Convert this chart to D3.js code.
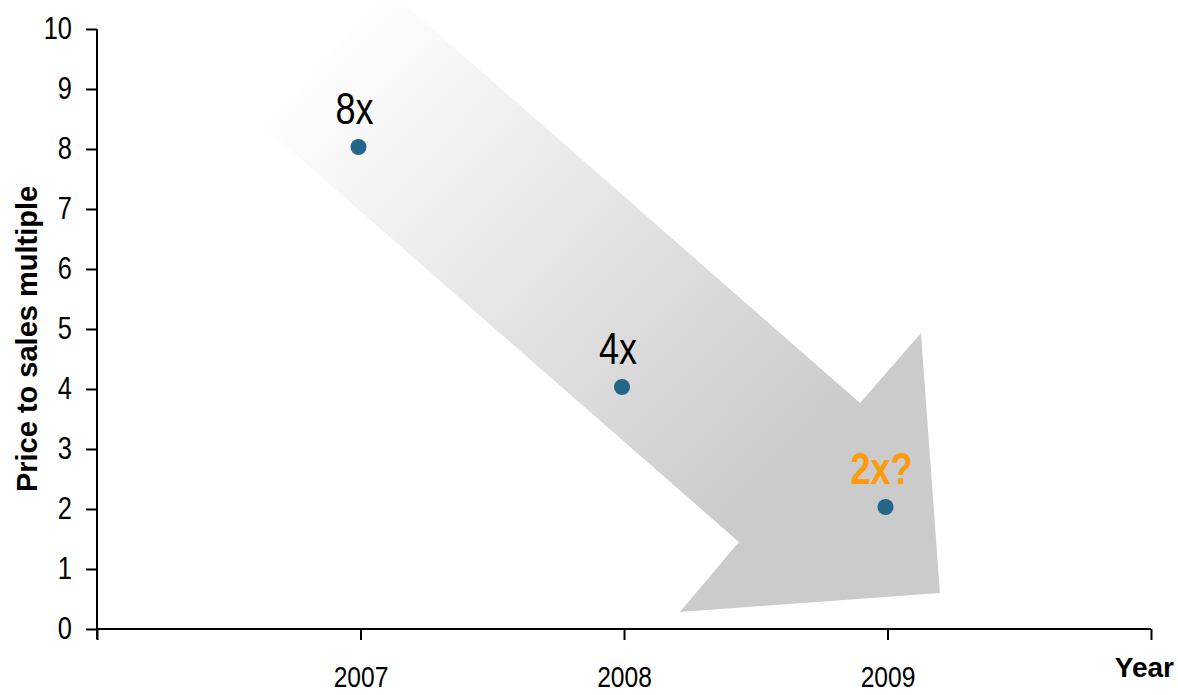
<!DOCTYPE html>
<html>
<head>
<meta charset="utf-8">
<script src="https://cdn.jsdelivr.net/npm/d3@7"></script>
<style>
  html, body { margin: 0; padding: 0; background: #fff; }
  svg { display: block; }
  text { font-family: "Liberation Sans", Arial, sans-serif; }
</style>
</head>
<body>
<svg id="chart" width="1178" height="695"></svg>
<script>
// Price-to-sales multiple by year
const years = [2007, 2008, 2009];
const multiples = [8, 4, 2];
const valueLabels = ["8x", "4x", "2x?"];
const highlight = [false, false, true];

const yTicks = [0, 1, 2, 3, 4, 5, 6, 7, 8, 9, 10];
const xTicks = [2006, 2007, 2008, 2009, 2010];
const xTickLabels = ["", "2007", "2008", "2009", ""];

// Downward trend arrow outline, in (year, multiple) units
const arrowYears = [2006.638, 2007.100, 2008.896, 2009.127, 2009.199, 2008.212, 2008.436];
const arrowValues = [8.35, 10.67, 3.767, 4.933, 0.60, 0.283, 1.45];

const svg = d3.select("#chart");
const x = d3.scaleLinear().domain([2006, 2010]).range([97, 1151]);
const y = d3.scaleLinear().domain([0, 10]).range([629, 29]);

// narrow lettering: squeeze text horizontally about its own anchor
const NARROW = 0.82;
function condense(sel) {
  sel.each(function () {
    const t = d3.select(this);
    const tx = +t.attr("x") || 0;
    t.attr("x", 0).attr("transform", `translate(${tx},0) scale(${NARROW},1)`);
  });
}

// gradient: fades from white at the tail to grey at the head
const defs = svg.append("defs");
const grad = defs.append("linearGradient")
  .attr("id", "arrowFill")
  .attr("gradientUnits", "userSpaceOnUse")
  .attr("x1", x(2006.8)).attr("y1", y(9.5))
  .attr("x2", x(2008.5)).attr("y2", y(2.2));
grad.append("stop").attr("offset", 0).attr("stop-color", "#ffffff");
grad.append("stop").attr("offset", 1).attr("stop-color", "#cbcbcb");

const arrowPts = arrowYears.map((yr, i) => [x(yr), y(arrowValues[i])]);
svg.append("path")
  .attr("d", d3.line()(arrowPts) + "Z")
  .attr("fill", "url(#arrowFill)");

// y axis
const yAxis = svg.append("g")
  .attr("transform", `translate(${x(2006)},0)`)
  .call(d3.axisLeft(y).tickValues(yTicks).tickSize(11).tickPadding(14).tickFormat(d3.format("d")));
yAxis.select(".domain").attr("stroke", "#000").attr("stroke-width", 2)
  .attr("d", `M0,${y(10)}V${y(0) + 10}`);
yAxis.selectAll(".tick line").attr("stroke", "#000").attr("stroke-width", 2);
yAxis.selectAll(".tick text").attr("font-size", 31).attr("fill", "#000")
  .attr("font-family", "\"Liberation Sans\", Arial, sans-serif")
  .call(condense);

// x axis
const xAxis = svg.append("g")
  .attr("transform", `translate(0,${y(0)})`)
  .call(d3.axisBottom(x).tickValues(xTicks).tickSize(11).tickPadding(26)
    .tickFormat((d, i) => xTickLabels[i]));
xAxis.select(".domain").attr("stroke", "#000").attr("stroke-width", 2)
  .attr("d", `M${x(2006)},0H${x(2010)}`);
xAxis.selectAll(".tick line").attr("stroke", "#000").attr("stroke-width", 2);
xAxis.selectAll(".tick text").attr("font-size", 30).attr("fill", "#000")
  .attr("font-family", "\"Liberation Sans\", Arial, sans-serif")
  .call(condense);

// axis titles
svg.append("text")
  .attr("transform", `translate(37,${(y(0) + y(10)) / 2 + 10}) rotate(-90)`)
  .attr("text-anchor", "middle")
  .attr("font-size", 29).attr("font-weight", "bold").attr("fill", "#000")
  .text("Price to sales multiple");

svg.append("text")
  .attr("x", 1174).attr("y", 677)
  .attr("text-anchor", "end")
  .attr("font-size", 28).attr("font-weight", "bold").attr("fill", "#000")
  .text("Year");

// points
svg.selectAll("circle.pt")
  .data(years)
  .join("circle")
  .attr("class", "pt")
  .attr("cx", d => x(d) - 2)
  .attr("cy", (d, i) => y(multiples[i]) - 2)
  .attr("r", 8)
  .attr("fill", "#22678a");

// value labels
svg.selectAll("text.val")
  .data(years)
  .join("text")
  .attr("class", "val")
  .attr("x", (d, i) => x(d) - 6)
  .attr("y", (d, i) => y(multiples[i]) - 25)
  .attr("text-anchor", "middle")
  .attr("font-size", 44)
  .attr("font-weight", (d, i) => highlight[i] ? "bold" : "normal")
  .attr("fill", (d, i) => highlight[i] ? "#ff9a0a" : "#000")
  .text((d, i) => valueLabels[i])
  .call(condense);
</script>
</body>
</html>
